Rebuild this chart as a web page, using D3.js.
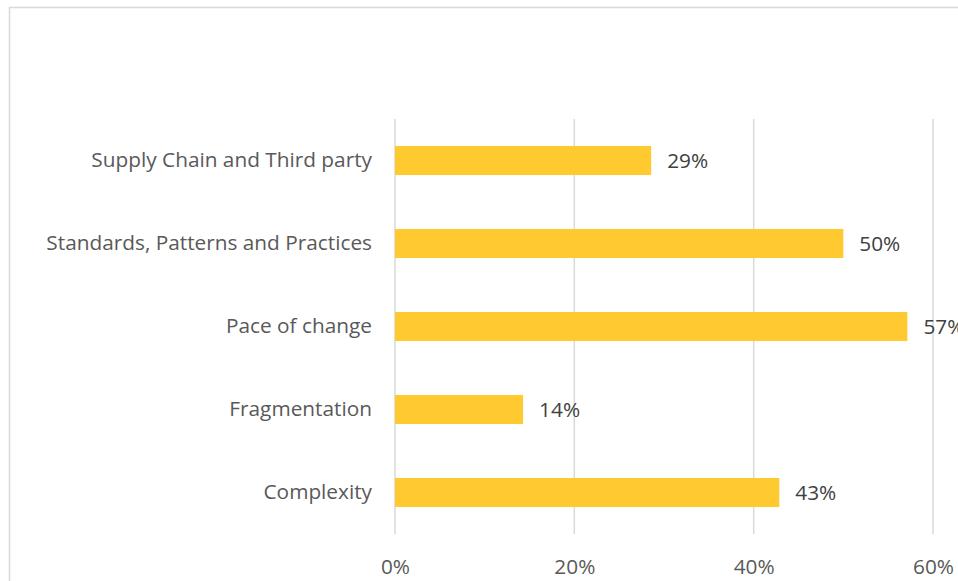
<!DOCTYPE html>
<html>
<head>
<meta charset="utf-8">
<script src="https://cdn.jsdelivr.net/npm/d3@7"></script>
<style>
  html, body { margin: 0; padding: 0; background: #fff; }
  svg { display: block; }
</style>
</head>
<body>
<svg id="chart" width="958" height="581"></svg>
<script>
// Share of respondents naming each challenge (fractions of 14 responses)
const categories = [
  "Supply Chain and Third party",
  "Standards, Patterns and Practices",
  "Pace of change",
  "Fragmentation",
  "Complexity"
];
const values = [4 / 14, 7 / 14, 8 / 14, 2 / 14, 6 / 14];
const tickValues = [0, 0.2, 0.4, 0.6];

const svg = d3.select("#chart");
const font = "'Open Sans', 'Liberation Sans', sans-serif";
const fontSize = "20.8px";

// outer chart frame (runs off the right and bottom edges)
svg.append("rect")
  .attr("x", 9.5).attr("y", 7.5)
  .attr("width", 1000).attr("height", 1000)
  .attr("fill", "#fff")
  .attr("stroke", "#d9d9d9")
  .attr("stroke-width", 1.5);

const plot = { left: 395, right: 933, top: 119, bottom: 534 };

const x = d3.scaleLinear().domain([0, 0.6]).range([plot.left, plot.right]);
const y = d3.scaleBand().domain(categories)
  .range([plot.top, plot.bottom])
  .paddingInner(0.65).paddingOuter(0.325);

// vertical gridlines
svg.append("g")
  .selectAll("line")
  .data(tickValues)
  .join("line")
  .attr("x1", d => x(d)).attr("x2", d => x(d))
  .attr("y1", plot.top).attr("y2", plot.bottom)
  .attr("stroke", "#d9d9d9")
  .attr("stroke-width", 1.5);

// x axis tick labels
const xAxis = d3.axisBottom(x)
  .tickValues(tickValues)
  .tickFormat(d3.format(".0%"))
  .tickSize(0)
  .tickPadding(0);
const gx = svg.append("g")
  .attr("transform", `translate(0,${plot.bottom})`)
  .call(xAxis);
gx.select(".domain").remove();
gx.selectAll("text")
  .attr("y", 33).attr("dy", "0.35em")
  .attr("fill", "#595959")
  .style("font-family", font)
  .style("font-size", fontSize);

// y axis category labels
const yAxis = d3.axisLeft(y).tickSize(0).tickPadding(0);
const gy = svg.append("g")
  .attr("transform", `translate(${plot.left - 23},0)`)
  .call(yAxis);
gy.select(".domain").remove();
gy.selectAll("text")
  .attr("fill", "#595959")
  .style("font-family", font)
  .style("font-size", fontSize);

// bars
svg.append("g")
  .selectAll("rect")
  .data(categories)
  .join("rect")
  .attr("x", x(0))
  .attr("y", d => y(d))
  .attr("width", (d, i) => x(values[i]) - x(0))
  .attr("height", y.bandwidth())
  .attr("fill", "#FFCA30");

// value labels
svg.append("g")
  .selectAll("text")
  .data(categories)
  .join("text")
  .attr("x", (d, i) => x(values[i]) + 16)
  .attr("y", d => y(d) + y.bandwidth() / 2)
  .attr("dy", "0.35em")
  .attr("fill", "#404040")
  .style("font-family", font)
  .style("font-size", fontSize)
  .text((d, i) => d3.format(".0%")(values[i]));
</script>
</body>
</html>
